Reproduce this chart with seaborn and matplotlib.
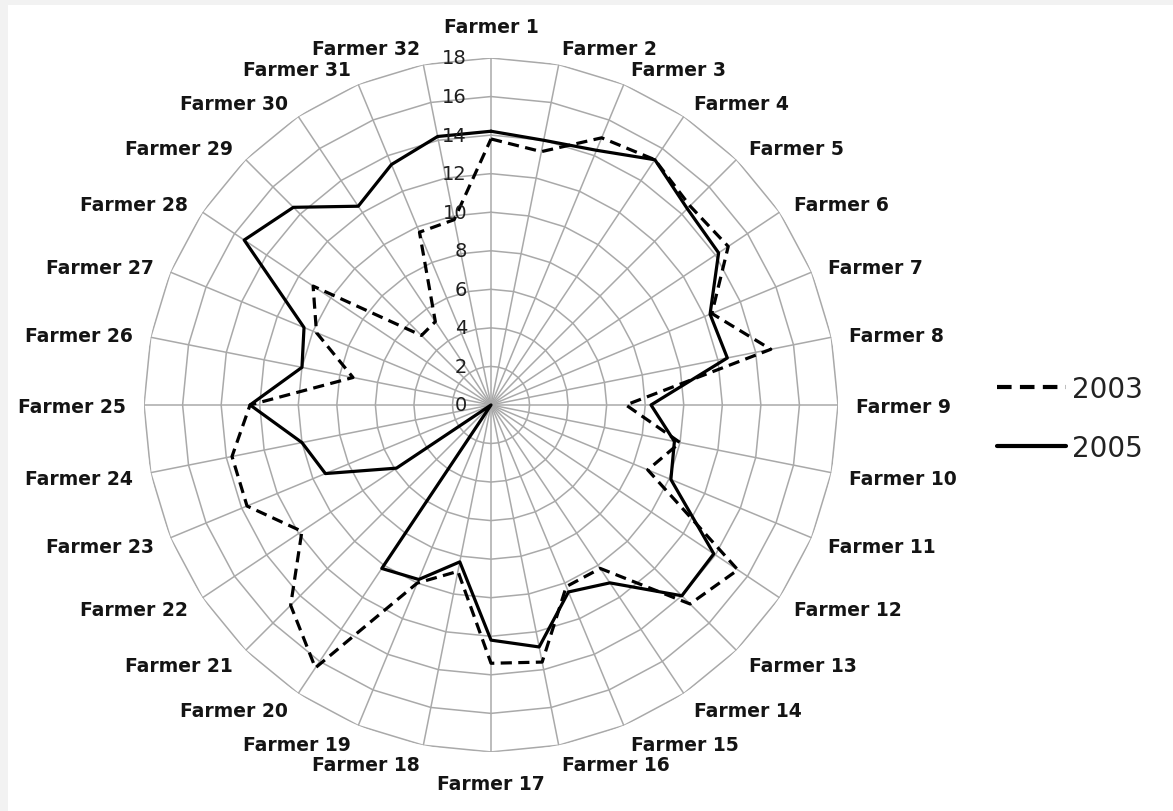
import numpy as np
import pandas as pd
import matplotlib
matplotlib.use("Agg")
import matplotlib.pyplot as plt
import matplotlib.transforms as mtransforms
import seaborn as sns

# --- data ---
farmers = [f"Farmer {i}" for i in range(1, 33)]
years = ["2003", "2005"]
values_2003 = [13.8, 13.4, 15.0, 15.3, 14.6, 14.8, 12.4, 14.8,
               7.0, 10.0, 8.8, 15.4, 14.6, 10.2, 10.2, 13.6,
               13.4, 8.8, 10.0, 16.4, 14.7, 11.8, 13.7, 13.7,
               12.5, 7.3, 9.8, 11.1, 5.1, 5.2, 9.7, 9.8]
values_2005 = [14.2, 14.0, 14.3, 15.3, 14.4, 14.2, 12.3, 12.5,
               8.3, 9.7, 10.1, 13.9, 14.0, 11.1, 10.5, 12.8,
               12.2, 8.3, 9.8, 10.2, 0.0, 5.9, 9.3, 10.0,
               12.5, 10.0, 10.5, 15.4, 14.5, 12.4, 13.5, 14.2]
r_ticks = list(range(0, 20, 2))

n = len(farmers)
angles = np.arange(n) * 2 * np.pi / n

# long table, each polygon closed back on Farmer 1
rows = []
for year, vals in zip(years, [values_2003, values_2005]):
    for a, v in zip(list(angles) + [2 * np.pi], vals + vals[:1]):
        rows.append({"angle": a, "value": v, "year": year})
df = pd.DataFrame(rows)

sns.set_theme(style="white")
plt.rcParams["font.family"] = ["DejaVu Sans"]

fig = plt.figure(figsize=(11.73, 8.12), dpi=100)
fig.patch.set_facecolor("#f2f2f2")
fig.patches.append(plt.Rectangle((8 / 1173, 0), 1, 1 - 6 / 812, transform=fig.transFigure,
                                 facecolor="white", edgecolor="none", zorder=-10))

ax = fig.add_axes([0.1228, 0.0727, 0.5916, 0.8547], projection="polar")
ax.set_facecolor("none")
ax.set_theta_zero_location("N")
ax.set_theta_direction(-1)
ax.grid(False)
ax.spines["polar"].set_visible(False)
ax.set_xticks([])
ax.set_yticks([])

# polygon gridlines and spokes like the Excel radar
grid_col = "#a9a9a9"
ring_angles = np.append(angles, 2 * np.pi)
for lvl in r_ticks[1:]:
    ax.plot(ring_angles, [lvl] * len(ring_angles), color=grid_col, lw=1.1, zorder=1)
for a in angles:
    ax.plot([a, a], [0, r_ticks[-1]], color=grid_col, lw=1.1, zorder=1)

sns.lineplot(data=df, x="angle", y="value", style="year", sort=False, estimator=None,
             dashes={"2003": (3.5, 2), "2005": ""}, color="black", lw=2.3, ax=ax, zorder=3)
ax.set_ylim(0, r_ticks[-1])
ax.set_xlabel("")
ax.set_ylabel("")

# radial value labels along the top spoke
for v in r_ticks:
    tr = mtransforms.offset_copy(ax.transData, fig=fig, x=-24, y=0, units="dots")
    ax.text(0, v, str(v), transform=tr, ha="right", va="center",
            fontsize=14, color="#1e1e1e", zorder=4)

# category labels around the outside
for a, name in zip(angles, farmers):
    s, c = np.sin(a), np.cos(a)
    if abs(s) < 1e-6:
        dy = 22 if c > 0 else -22
        tr = mtransforms.offset_copy(ax.transData, fig=fig, x=0, y=dy, units="dots")
        ax.text(a, r_ticks[-1], name, transform=tr, ha="center",
                va="bottom" if c > 0 else "top", fontsize=13.5, fontweight="bold",
                color="#141414")
    else:
        tr = mtransforms.offset_copy(ax.transData, fig=fig, x=18 * s, y=18 * c - 2, units="dots")
        ax.text(a, r_ticks[-1], name, transform=tr, ha="left" if s > 0 else "right",
                va="center", fontsize=13.5, fontweight="bold", color="#141414")

handles, labels = ax.get_legend_handles_labels()
for h in handles:
    h.set_linewidth(3)
ax.legend(handles, labels, loc="upper left", bbox_to_anchor=(997 / 1173, 1 - 376 / 812),
          bbox_transform=fig.transFigure, frameon=False, fontsize=20, handlelength=2.5,
          handletextpad=0.2, labelspacing=1.1, borderpad=0, borderaxespad=0,
          labelcolor="#222222")

fig.savefig("out.png", dpi=100, facecolor=fig.get_facecolor())
